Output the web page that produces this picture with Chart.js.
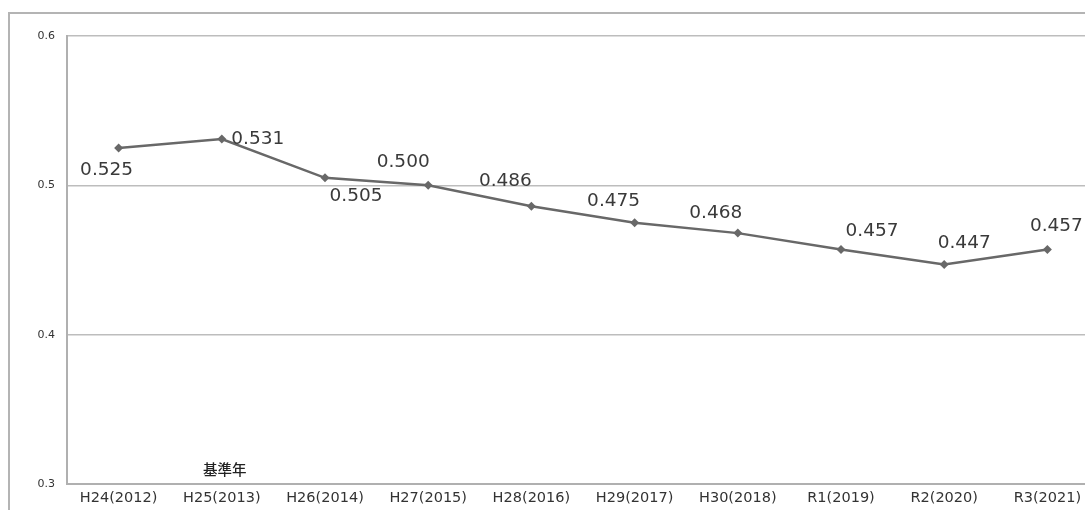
<!DOCTYPE html>
<html lang="ja">
<head>
<meta charset="utf-8">
<title>推移</title>
<script src="https://cdn.jsdelivr.net/npm/chart.js@4/dist/chart.umd.min.js"></script>
<style>
  html, body { margin: 0; padding: 0; background: #fff; overflow: hidden; }
  #wrap { position: relative; width: 1085px; height: 510px; overflow: hidden; }
  #frame {
    position: absolute; left: 8px; top: 12px; width: 1077px; height: 510px;
    border-left: 2px solid #b4b4b4; border-top: 2px solid #b4b4b4; box-sizing: border-box;
  }
  #chart { position: absolute; left: 0; top: 0; }
</style>
</head>
<body>
<div id="wrap">
  <div id="frame"></div>
  <canvas id="chart" width="1110" height="510"></canvas>
</div>
<script>
// 年度ラベル
const categories = ['H24(2012)', 'H25(2013)', 'H26(2014)', 'H27(2015)', 'H28(2016)',
                    'H29(2017)', 'H30(2018)', 'R1(2019)', 'R2(2020)', 'R3(2021)'];
// 各年度の値
const values = [0.525, 0.531, 0.505, 0.500, 0.486, 0.475, 0.468, 0.457, 0.447, 0.457];
// 縦軸の目盛り
const yTicks = [0.3, 0.4, 0.5, 0.6];
// 基準年
const baseYearIndex = 1;
const baseYearText = '基準年';

// 値ラベルの位置（点からのずれ, px）
const labelOffsets = [
  [-12, 22], [36, 0], [31, 18], [-25, -23], [-26, -25],
  [-21, -21], [-22, -20], [31, -18], [20, -21], [9, -23]
];

const valueLabels = {
  id: 'valueLabels',
  afterDatasetsDraw(chart) {
    const ctx = chart.ctx;
    const meta = chart.getDatasetMeta(0);
    ctx.save();
    ctx.font = '18.5px "DejaVu Sans"';
    ctx.fillStyle = '#3a3a3a';
    ctx.textAlign = 'center';
    ctx.textBaseline = 'middle';
    meta.data.forEach((pt, i) => {
      const v = chart.data.datasets[0].data[i];
      const [dx, dy] = labelOffsets[i];
      ctx.fillText(v.toFixed(3), pt.x + dx, pt.y + dy);
    });
    // 基準年の注記
    const xs = chart.scales.x;
    ctx.font = '500 14.5px "Noto Sans CJK JP"';
    ctx.fillStyle = '#222';
    ctx.fillText(baseYearText, xs.getPixelForValue(baseYearIndex) + 3, chart.chartArea.bottom - 15);
    ctx.restore();
  }
};

new Chart(document.getElementById('chart'), {
  type: 'line',
  data: {
    labels: categories,
    datasets: [{
      data: values,
      borderColor: '#686868',
      backgroundColor: '#686868',
      borderWidth: 2.5,
      pointStyle: 'rectRot',
      pointRadius: 4.5,
      pointBorderWidth: 0,
      tension: 0
    }]
  },
  options: {
    responsive: false,
    animation: false,
    events: [],
    layout: { padding: { left: 8, top: 36, right: 11, bottom: 0 } },
    plugins: { legend: { display: false }, tooltip: { enabled: false } },
    scales: {
      x: {
        offset: true,
        grid: { display: false, drawTicks: false },
        border: { display: true, color: '#b0b0b0', width: 2 },
        ticks: {
          color: '#333',
          font: { family: 'DejaVu Sans', size: 14.5 },
          padding: 6,
          maxRotation: 0,
          autoSkip: false
        },
        afterFit(scale) { scale.height = 26; }
      },
      y: {
        min: yTicks[0],
        max: yTicks[yTicks.length - 1],
        afterBuildTicks(scale) { scale.ticks = yTicks.map(v => ({ value: v })); },
        grid: { color: '#bdbdbd', lineWidth: 1.5, drawTicks: false },
        border: { display: true, color: '#b0b0b0', width: 2 },
        ticks: {
          color: '#333',
          font: { family: 'DejaVu Sans', size: 11 },
          padding: 12,
          callback: v => Number(v).toFixed(1)
        },
        afterFit(scale) { scale.width = 59; }
      }
    }
  },
  plugins: [valueLabels]
});
</script>
</body>
</html>
